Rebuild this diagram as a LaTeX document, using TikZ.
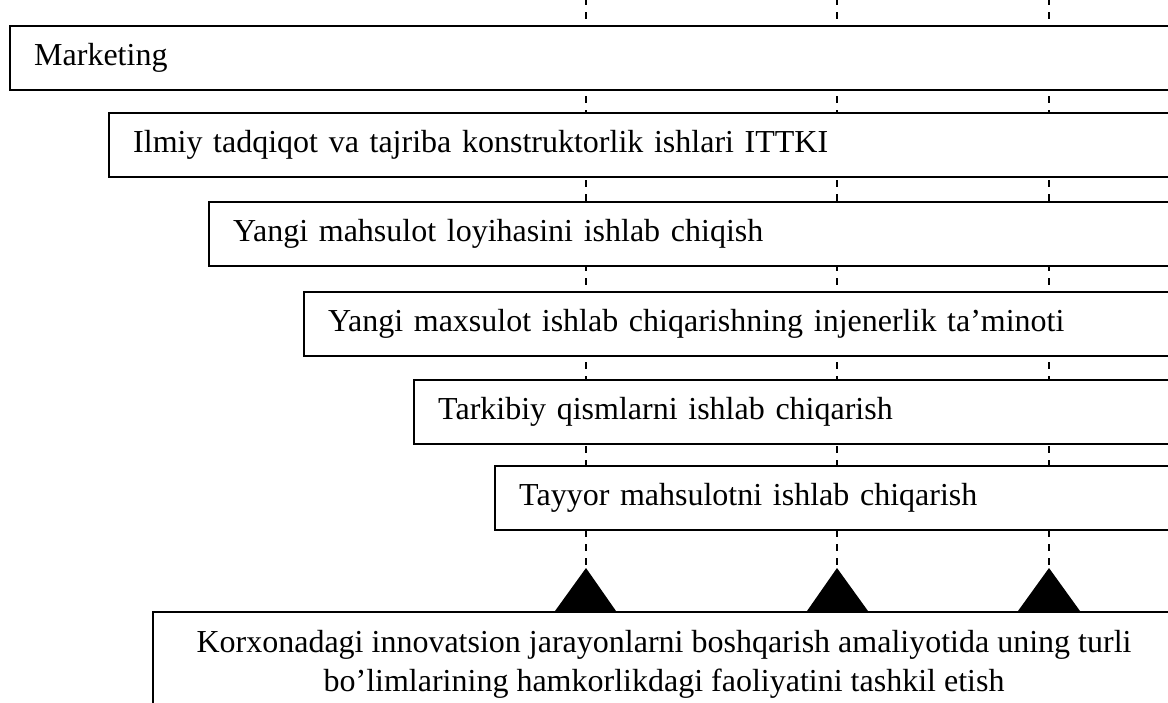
\documentclass[tikz,border=0pt]{standalone}
\usepackage{fontspec}
\setmainfont{Liberation Serif}
\begin{document}
\begin{tikzpicture}[x=1pt,y=-1pt,
  stagebox/.style={draw, line width=2.4pt, fill=white, anchor=north west,
    minimum height=64pt, inner xsep=24pt, inner ysep=0pt, align=left,
    font=\fontsize{32}{38}\selectfont},
  guide/.style={line width=2pt, dash pattern=on 7pt off 7pt},
  marker/.style={fill=black}]
\useasboundingbox (0,0) rectangle (1168,702);
\clip (0,0) rectangle (1168,702);
\fill[white] (0,0) rectangle (1168,702);

% milestone guides: from the top edge down to the three markers
\coordinate (g1) at (586,-2);
\coordinate (g2) at (837,-2);
\coordinate (g3) at (1049,-2);
\coordinate (m1) at (586,568);
\coordinate (m2) at (837,568);
\coordinate (m3) at (1049,568);
\draw[guide] (g1) -- (m1);
\draw[guide] (g2) -- (m2);
\draw[guide] (g3) -- (m3);

% staggered stages, open towards the right edge
\node[stagebox, text width=1183pt] (mk) at (9,25) {Marketing};
\node[stagebox, text width=1084pt] (rd) at (108,112) {Ilmiy tadqiqot va tajriba konstruktorlik ishlari ITTKI};
\node[stagebox, text width=984pt] (pr) at (208,201) {Yangi mahsulot loyihasini ishlab chiqish};
\node[stagebox, text width=889pt] (en) at (303,291) {Yangi maxsulot ishlab chiqarishning injenerlik ta’minoti};
\node[stagebox, text width=779pt] (pt) at (413,379) {Tarkibiy qismlarni ishlab chiqarish};
\node[stagebox, text width=698pt] (fp) at (494,465) {Tayyor mahsulotni ishlab chiqarish};

% base box with the markers standing on its top edge
\node[draw, line width=2.4pt, fill=white, anchor=north west,
  minimum width=1100pt, minimum height=150pt] (base) at (152,611) {};
\fill[marker] (m1) -- (616,611) -- (555,611) -- cycle;
\fill[marker] (m2) -- (868,611) -- (807,611) -- cycle;
\fill[marker] (m3) -- (1080,611) -- (1018,611) -- cycle;
\node[anchor=north, inner sep=0pt, align=center,
  font=\fontsize{32}{39}\selectfont] (basetext) at (664,630)
  {Korxonadagi innovatsion jarayonlarni boshqarish amaliyotida uning turli\\
   bo’limlarining hamkorlikdagi faoliyatini tashkil etish};
\end{tikzpicture}
\end{document}
